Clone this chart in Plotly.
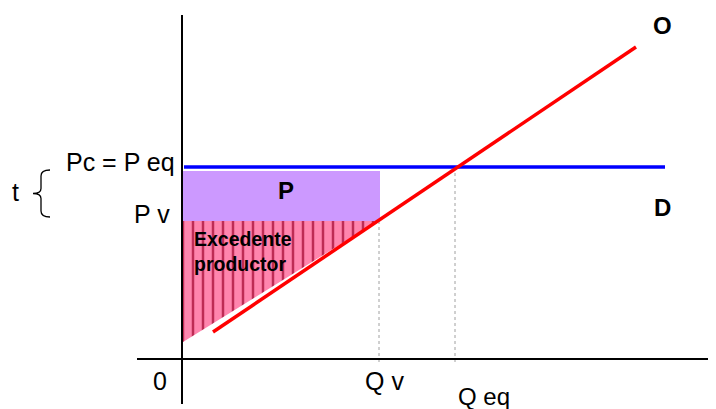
import plotly.graph_objects as go

# ---- data (arbitrary economic units) ----
Q_v, Q_eq = 19.7, 27.3
P_eq, P_v = 19.2, 13.8
supply_q = [3.1, 45.4]
supply_p = [2.7, 31.2]
demand_q = [0.2, 48.3]
demand_p = [P_eq, P_eq]
rect_q = [0.1, 19.8, 19.8, 0.1, 0.1]
rect_p = [P_v, P_v, 18.8, 18.8, P_v]
surplus_q = [0.1, 19.6, 0.1, 0.1]
surplus_p = [P_v, P_v, 1.7, P_v]

FONT = "Liberation Sans, Arial, sans-serif"

fig = go.Figure()

# producer surplus (hatched triangle)
fig.add_trace(go.Scatter(
    x=surplus_q, y=surplus_p, mode="lines", fill="toself",
    line=dict(width=0, color="rgba(0,0,0,0)"),
    fillcolor="#FF85AE",
    fillpattern=dict(shape="|", size=10, solidity=0.25,
                     fgcolor="#BE2C55", bgcolor="#FF85AE", fillmode="replace"),
    hoverinfo="skip", showlegend=False))

# tax rectangle
fig.add_trace(go.Scatter(
    x=rect_q, y=rect_p, mode="lines", fill="toself",
    line=dict(width=0, color="rgba(0,0,0,0)"), fillcolor="#CC99FF",
    hoverinfo="skip", showlegend=False))

# guide lines
fig.add_trace(go.Scatter(x=[Q_v, Q_v], y=[P_v, -0.4], mode="lines",
                         line=dict(color="#A0A0A0", width=1, dash="dot"),
                         hoverinfo="skip", showlegend=False))
fig.add_trace(go.Scatter(x=[Q_eq, Q_eq], y=[P_eq, -0.4], mode="lines",
                         line=dict(color="#A0A0A0", width=1, dash="dot"),
                         hoverinfo="skip", showlegend=False))

# axes
fig.add_trace(go.Scatter(x=[0, 0], y=[-4.5, 34.4], mode="lines",
                         line=dict(color="black", width=2),
                         hoverinfo="skip", showlegend=False))
fig.add_trace(go.Scatter(x=[-4.5, 53.4], y=[0, 0], mode="lines",
                         line=dict(color="black", width=2),
                         hoverinfo="skip", showlegend=False))

# demand (blue) and supply (red)
fig.add_trace(go.Scatter(x=demand_q, y=demand_p, mode="lines",
                         line=dict(color="#0000FF", width=3.5),
                         hoverinfo="skip", showlegend=False))
fig.add_trace(go.Scatter(x=supply_q, y=supply_p, mode="lines",
                         line=dict(color="#FF0000", width=3.5),
                         hoverinfo="skip", showlegend=False))

# brace spanning P_v .. P_eq
bx_end, bx_mid, bx_tip = -13.2, -14.1, -14.9
top, bot = P_eq - 0.3, P_v + 0.4
mid = (top + bot) / 2
path = (f"M {bx_end} {top} Q {bx_mid} {top} {bx_mid} {top-0.6} "
        f"L {bx_mid} {mid+0.5} Q {bx_mid} {mid} {bx_tip} {mid} "
        f"Q {bx_mid} {mid} {bx_mid} {mid-0.5} "
        f"L {bx_mid} {bot+0.6} Q {bx_mid} {bot} {bx_end} {bot}")
fig.add_shape(type="path", path=path, xref="x", yref="y",
              line=dict(color="black", width=1.3))

def label(x, y, text, size=25, bold=False, xanchor="center", align="center"):
    fig.add_annotation(x=x, y=y, text=f"<b>{text}</b>" if bold else text,
                       showarrow=False, xanchor=xanchor, yanchor="middle",
                       align=align,
                       font=dict(family=FONT, size=size, color="black"))

label(48.0, 33.4, "O", size=24, bold=True)
label(48.0, 15.2, "D", size=24, bold=True)
label(10.4, 16.9, "P", size=24, bold=True)
label(1.0, 10.8, "Excedente<br>productor", size=19.5, bold=True,
      xanchor="left", align="left")
label(-0.5, 19.7, "Pc = P eq", xanchor="right")
label(-1.0, 14.5, "P v", xanchor="right")
label(-16.7, 16.7, "t")
label(-2.2, -2.2, "0")
label(20.2, -2.2, "Q v")
label(30.2, -3.7, "Q eq", size=24)

# page body has an 8px margin: figure covers screen pixels 8..716 x 8..409
fig.update_layout(
    width=708, height=401,
    margin=dict(l=0, r=0, t=0, b=0),
    paper_bgcolor="white", plot_bgcolor="white",
    xaxis=dict(range=[-17.4, 53.4], visible=False, fixedrange=True),
    yaxis=dict(range=[-5.0, 35.1], visible=False, fixedrange=True),
)

fig.write_html("out.html")
